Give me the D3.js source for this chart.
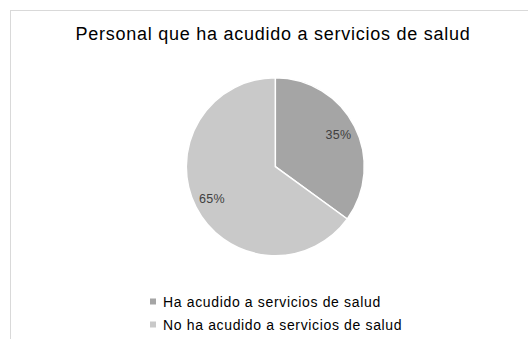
<!DOCTYPE html>
<html>
<head>
<meta charset="utf-8">
<script src="https://cdn.jsdelivr.net/npm/d3@7"></script>
<style>
  html, body { margin: 0; padding: 0; background: #ffffff; }
  svg { display: block; font-family: "Liberation Sans", Arial, sans-serif; }
</style>
</head>
<body>
<svg id="chart" width="528" height="339"></svg>
<script>
// Chart data
const title = "Personal que ha acudido a servicios de salud";
const categories = ["Ha acudido a servicios de salud", "No ha acudido a servicios de salud"];
const values = [35, 65];
const colors = ["#a5a5a5", "#c9c9c9"];

const svg = d3.select("#chart");
const W = 528, H = 339;

// Chart area frame (extends past the right and bottom edges)
svg.append("rect")
  .attr("x", 10.5).attr("y", 10.5)
  .attr("width", W + 20).attr("height", H + 20)
  .attr("fill", "#ffffff")
  .attr("stroke", "#d9d9d9")
  .attr("stroke-width", 1);

// Title
svg.append("text")
  .attr("x", 273).attr("y", 40)
  .attr("text-anchor", "middle")
  .attr("font-size", "18px")
  .attr("letter-spacing", "0.75px")
  .attr("fill", "#000000")
  .text(title);

// Pie
const cx = 275.3, cy = 166.7, R = 89;
const pie = d3.pie().sort(null).value(d => d)(values);
const arc = d3.arc().innerRadius(0).outerRadius(R);
const labelArc = d3.arc().innerRadius(71).outerRadius(71);

const g = svg.append("g").attr("transform", `translate(${cx},${cy})`);
g.selectAll("path.slice")
  .data(pie)
  .join("path")
  .attr("class", "slice")
  .attr("d", arc)
  .attr("fill", (d, i) => colors[i])
  .attr("stroke", "#ffffff")
  .attr("stroke-width", 1.5)
  .attr("stroke-linejoin", "round");

const total = d3.sum(values);
g.selectAll("text.lbl")
  .data(pie)
  .join("text")
  .attr("class", "lbl")
  .attr("transform", d => `translate(${labelArc.centroid(d)})`)
  .attr("text-anchor", "middle")
  .attr("dy", "0.36em")
  .attr("font-size", "12.5px")
  .attr("letter-spacing", "0.3px")
  .attr("fill", "#404040")
  .text(d => Math.round(d.data / total * 100) + "%");

// Legend
const legend = svg.append("g");
const rows = legend.selectAll("g")
  .data(categories)
  .join("g")
  .attr("transform", (d, i) => `translate(150, ${302 + i * 23})`);
rows.append("rect")
  .attr("x", 0).attr("y", -3.5)
  .attr("width", 6).attr("height", 6)
  .attr("fill", (d, i) => colors[i]);
rows.append("text")
  .attr("x", 13).attr("dy", "0.36em")
  .attr("font-size", "14px")
  .attr("letter-spacing", "0.65px")
  .attr("fill", "#000000")
  .text(d => d);
</script>
</body>
</html>
